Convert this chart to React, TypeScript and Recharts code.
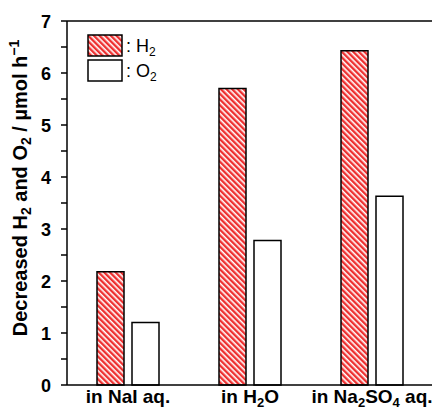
import React from 'react';
import { BarChart, Bar, XAxis, YAxis, ReferenceLine } from 'recharts';

const categories = ['in NaI aq.', 'in H2O', 'in Na2SO4 aq.'];
const h2Values = [2.18, 5.7, 6.43];
const o2Values = [1.2, 2.78, 3.63];
const yTicks = [0, 0.5, 1, 1.5, 2, 2.5, 3, 3.5, 4, 4.5, 5, 5.5, 6, 6.5, 7];

const data = categories.map((c, i) => ({ name: c, h2: h2Values[i], o2: o2Values[i] }));

const FONT = 'Liberation Sans, Arial, sans-serif';

// split a chemical label into normal/subscript parts (digits following letters become subscript)
function chemParts(s: string) {
  const parts: { t: string; sub: boolean }[] = [];
  let i = 0;
  const isSub = (j: number) => /[0-9]/.test(s[j]) && j > 0 && /[A-Za-z]/.test(s[j - 1]);
  while (i < s.length) {
    if (isSub(i)) {
      parts.push({ t: s[i], sub: true });
      i++;
    } else {
      let j = i;
      let t = '';
      while (j < s.length && !isSub(j)) {
        t += s[j];
        j++;
      }
      parts.push({ t, sub: false });
      i = j;
    }
  }
  return parts;
}

const XTick = (props: any) => {
  const { x, y, payload } = props;
  const parts = chemParts(String(payload.value));
  let prevSub = false;
  return (
    <text x={x} y={Number(y) + 10} textAnchor="middle" fontFamily={FONT} fontWeight="bold" fontSize={19} fill="#000">
      {parts.map((p, k) => {
        const dy = p.sub && !prevSub ? 4 : !p.sub && prevSub ? -4 : undefined;
        prevSub = p.sub;
        return (
          <tspan key={k} dy={dy} fontSize={p.sub ? 13 : 19}>
            {p.t}
          </tspan>
        );
      })}
    </text>
  );
};

const YTick = (props: any) => {
  const { x, y, payload } = props;
  const v = payload.value;
  if (!Number.isInteger(v)) return null;
  return (
    <text x={x} y={y} dy={6.5} textAnchor="end" fontFamily={FONT} fontWeight="bold" fontSize={18} fill="#000">
      {v}
    </text>
  );
};

const YLabel = () => {
  const cx = 27;
  const cy = 188;
  return (
    <text
      x={cx}
      y={cy}
      transform={`rotate(-90, ${cx}, ${cy})`}
      textAnchor="middle"
      fontFamily={FONT}
      fontWeight="bold"
      fontSize={20}
      fill="#000"
    >
      <tspan>Decreased H</tspan>
      <tspan dy={4} fontSize={14}>2</tspan>
      <tspan dy={-4}> and O</tspan>
      <tspan dy={4} fontSize={14}>2</tspan>
      <tspan dy={-4}> / µmol h</tspan>
      <tspan dy={-8} fontSize={14}>−1</tspan>
    </text>
  );
};

export default function App() {
  return (
    <div style={{ position: 'fixed', left: 0, top: 0, width: 432, height: 411, background: '#fff' }}>
      <svg width={0} height={0} style={{ position: 'absolute' }}>
        <defs>
          <pattern id="hatch" patternUnits="userSpaceOnUse" width={4} height={4} patternTransform="rotate(-45)">
            <rect x={0} y={0} width={4} height={4} fill="#fff" />
            <rect x={0} y={0} width={2.4} height={4} fill="#ee3030" />
          </pattern>
        </defs>
      </svg>
      <BarChart
        width={432}
        height={411}
        data={data}
        margin={{ top: 21, right: -1, left: 0, bottom: 0 }}
        barSize={27}
        barGap={8}
      >
        <XAxis
          dataKey="name"
          tick={<XTick />}
          tickLine={false}
          axisLine={{ stroke: '#000', strokeWidth: 1.5 }}
          height={26}
          interval={0}
        />
        <YAxis
          type="number"
          domain={[0, 7]}
          ticks={yTicks}
          interval={0}
          width={67}
          tickSize={6}
          tickMargin={10}
          tick={<YTick />}
          tickLine={{ stroke: '#000', strokeWidth: 1.5 }}
          axisLine={{ stroke: '#000', strokeWidth: 1.5 }}
          label={<YLabel />}
        />
        <ReferenceLine y={7} stroke="#000" strokeWidth={1.5} ifOverflow="visible" />
        <Bar dataKey="h2" fill="url(#hatch)" stroke="#000" strokeWidth={1.5} isAnimationActive={false} />
        <Bar dataKey="o2" fill="#fff" stroke="#000" strokeWidth={1.5} isAnimationActive={false} />
      </BarChart>
      <svg width={432} height={411} style={{ position: 'absolute', left: 0, top: 0, pointerEvents: 'none' }}>
        <rect x={88} y={35} width={34} height={21} fill="url(#hatch)" stroke="#000" strokeWidth={1.5} />
        <rect x={88} y={60} width={34} height={21} fill="#fff" stroke="#000" strokeWidth={1.5} />
        <text x={126} y={52} fontFamily={FONT} fontSize={18} fill="#000">
          <tspan>: H</tspan>
          <tspan dy={4} fontSize={12}>2</tspan>
        </text>
        <text x={126} y={77} fontFamily={FONT} fontSize={18} fill="#000">
          <tspan>: O</tspan>
          <tspan dy={4} fontSize={12}>2</tspan>
        </text>
      </svg>
    </div>
  );
}
